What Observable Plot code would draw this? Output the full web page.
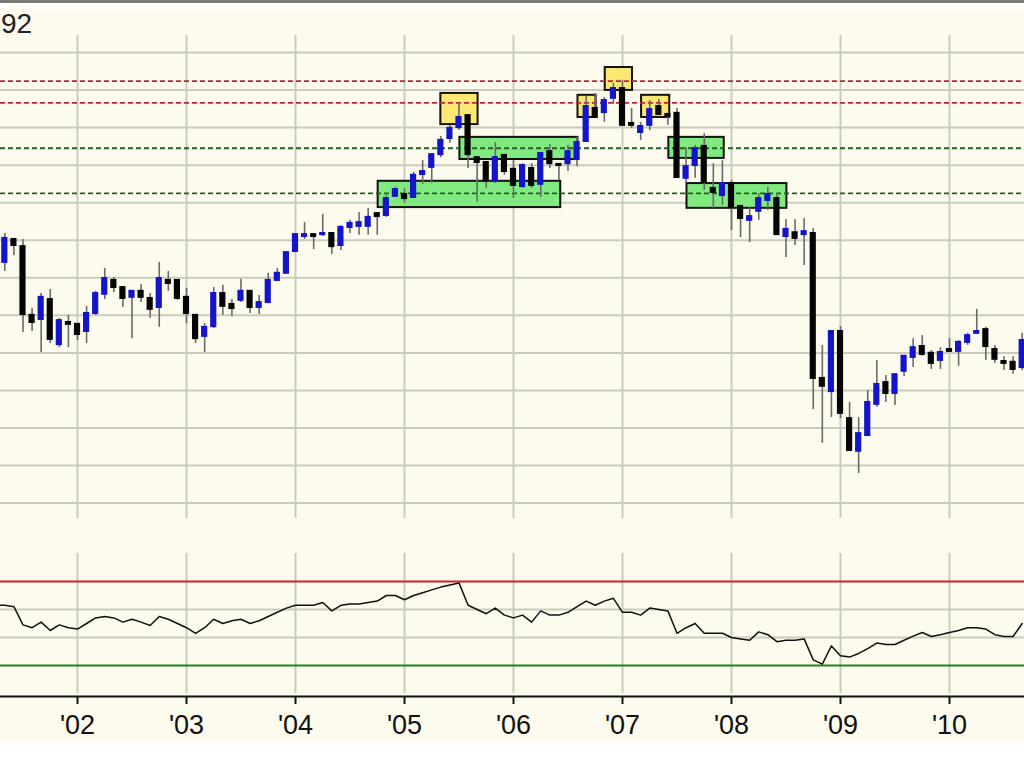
<!DOCTYPE html>
<html>
<head>
<meta charset="utf-8">
<script src="https://cdn.jsdelivr.net/npm/d3@7"></script>
<script src="https://cdn.jsdelivr.net/npm/@observablehq/plot@0.6"></script>
<style>
  body { margin: 0; background: #ffffff; }
  #wrap { position: relative; width: 1024px; height: 742px; background: #fdfbee; overflow: hidden; font-family: 'Liberation Sans', Arial, sans-serif; }
  #topline { position: absolute; left: 0; top: 0; width: 1024px; height: 3px; background: #7a7a7a; }
  #topband { position: absolute; left: 0; top: 3px; width: 1024px; height: 7px; background: #fffffa; }
  #main { position: absolute; left: 0; top: 0; }
  #lower { position: absolute; left: 0; top: 530px; }
</style>
</head>
<body>
<div id="wrap">
  <div id="topband"></div>
  <div id="main"></div>
  <div id="lower"></div>
  <div id="topline"></div>
</div>
<script>
// ---- Data (monthly candles, May 2001 .. Sep 2010; month index 0 = Jan 2002) ----
const firstMonthIndex = -8; // May 2001
const open = [74.1,80.2,78.3,60.0,58.9,64.2,52.2,58.1,
  57.6,55.7,60.5,65.6,69.3,67.4,64.8,66.4,64.5,62.1,69.3,69.3,
  64.8,60.0,54.4,57.0,65.8,62.9,64.0,66.4,62.1,63.4,69.3,71.2,
  77.0,81.0,81.5,81.5,81.8,78.6,83.4,83.7,83.7,87.1,86.6,91.7,
  92.2,91.4,97.5,99.4,102.8,107.1,110.0,113.2,102.0,100.7,95.7,102.6,
  98.9,94.3,99.1,94.9,103.6,100.2,100.4,101.5,106.3,115.1,114.0,117.8,
  120.4,111.1,108.7,110.6,115.6,113.5,113.8,96.5,99.9,105.0,93.8,91.9,
  95.1,89.0,85.3,87.7,90.6,91.1,81.0,82.0,81.5,81.8,43.2,39.7,
  55.7,32.5,23.8,28.0,36.3,42.1,39.2,45.1,48.8,51.7,49.9,48.0,
  50.9,50.4,52.8,55.2,56.2,50.9,47.7,47.5,46.1];
const high = [81.8,80.5,80.2,61.8,65.8,66.9,59.2,60.0,
  57.8,62.4,66.4,72.5,70.1,67.6,66.6,68.2,65.8,74.1,71.7,69.5,
  67.2,60.2,57.8,67.4,68.0,64.2,69.6,66.6,65.3,71.2,72.5,77.0,
  81.8,84.7,81.8,86.9,82.0,83.9,85.3,87.4,88.5,87.4,91.9,94.1,
  93.8,98.1,101.2,103.1,107.6,110.6,116.2,113.5,102.3,101.0,106.0,102.8,
  101.2,100.4,100.4,103.4,105.5,100.4,105.2,107.4,118.3,119.1,118.0,121.8,
  122.6,115.1,111.4,117.2,117.5,113.8,115.1,104.7,105.2,108.4,100.4,101.2,
  95.9,89.3,88.7,92.4,94.1,92.4,85.5,85.5,85.8,83.1,52.0,55.9,
  57.0,36.8,32.8,40.0,48.0,44.0,44.5,49.3,53.8,54.6,50.6,51.4,
  53.8,53.3,55.2,61.6,56.8,52.0,49.0,49.0,55.2];
const low = [71.7,75.9,55.4,55.7,50.1,52.5,51.4,51.4,
  53.3,52.5,60.0,64.2,66.1,62.1,53.8,63.4,59.2,56.8,66.4,64.0,
  57.8,52.5,50.1,56.5,60.0,59.7,63.4,60.5,60.2,63.2,69.0,71.0,
  76.7,80.2,77.5,81.0,76.2,77.3,81.8,81.3,81.3,81.3,86.1,91.4,
  89.8,91.1,94.9,95.1,102.0,105.8,109.2,99.1,90.1,93.8,95.1,97.3,
  91.1,93.8,93.8,91.4,99.1,95.9,98.3,99.6,106.0,112.4,111.4,116.2,
  110.3,109.8,106.6,109.2,113.2,110.6,96.5,95.1,96.5,93.3,88.5,89.3,
  82.6,80.7,79.4,85.3,87.9,81.3,75.4,78.6,73.3,34.9,25.9,32.8,
  32.5,23.8,17.9,27.7,35.5,36.8,36.0,43.7,46.1,49.1,45.6,45.6,
  50.2,46.4,52.0,55.0,48.0,47.2,45.3,44.3,45.3];
const close = [80.5,78.6,60.2,58.1,64.8,53.6,58.6,57.6,
  54.9,60.5,65.8,69.8,67.4,64.5,66.4,64.8,61.6,69.8,68.5,64.5,
  60.5,53.8,56.8,65.8,62.4,61.8,66.4,62.1,63.4,69.3,71.2,76.7,
  81.5,81.5,81.0,81.8,78.3,83.4,84.5,84.7,86.1,86.3,91.1,93.5,
  91.1,97.3,98.3,102.8,106.6,109.8,112.7,102.8,100.7,95.7,102.0,98.3,
  94.6,99.9,94.6,103.1,100.4,99.9,103.6,106.0,115.6,112.7,117.2,120.4,
  110.6,110.6,110.3,114.8,113.5,113.0,96.7,99.6,104.4,95.4,92.7,95.1,
  88.7,85.8,86.3,91.1,92.2,81.5,82.9,80.5,82.3,43.2,41.1,55.7,
  33.9,24.0,28.5,36.8,41.6,39.2,44.2,49.1,51.4,49.6,47.2,50.1,
  50.4,52.8,54.6,55.7,51.7,48.3,47.2,45.6,53.3];

// oscillator (RSI-like), Apr 2001 .. Sep 2010
const rsiFirstMonthIndex = -9;
const rsi = [63,63,62,49,47,51,45,49,47,
  46,50,54,55,54,51,53,51,48.6,55,53,50,
  47,43,47,53,50,52,53,50,52,55,58,61,
  63,63,63,65,59,63,64,64,65,66,70,70,
  67,70,72,74,76,77.5,79,63,60,57,61,56,
  54,56,51,59,56,56,58,62,66,63,66,68,
  58,58,56,61,60,59,43,47,50,43,43,43,
  40,39,38,44,42,37,38,38,39,24,21,34,
  27,26,28.6,32,36,35,35,38,41,43.6,40.7,42,
  43.6,45,47,47,46,42,40.7,40.7,50];
const rsiUpper = 80, rsiLower = 20, rsiGridLevels = [40, 60];

// year ticks
const yearTicks = [0, 12, 24, 36, 48, 60, 72, 84, 96];
const yearLabels = ["'02","'03","'04","'05","'06","'07","'08","'09","'10"];

// price grid and levels
const priceGrid = [10,20,30,40,50,60,70,80,90,100,110,120,130];
const resistanceLevels = [122.4, 116.6];
const supportLevels = [104.5, 92.5];

// highlighted zones (month index, price)
const zoneKind = ["top","top","top","top","base","base","base","base"];
const zoneStart = [40.0, 55.1, 58.1, 62.1, 33.1, 42.1, 65.1, 67.1];
const zoneEnd   = [44.1, 57.1, 61.1, 65.2, 53.2, 55.1, 71.2, 78.1];
const zoneHigh  = [119.1, 118.6, 126.0, 118.6, 95.7, 107.4, 107.4, 95.1];
const zoneLow   = [110.8, 112.7, 119.9, 112.7, 88.7, 101.5, 101.8, 88.5];

// header fragment visible at top-left
const headerText = "92";

// ---- build tables ----
const candles = open.map((o, i) => ({t: firstMonthIndex + i, open: o, high: high[i], low: low[i], close: close[i]}));
const rsiData = rsi.map((v, i) => ({t: rsiFirstMonthIndex + i, v}));
const zones = zoneKind.map((k, i) => ({kind: k, x1: zoneStart[i], x2: zoneEnd[i], y1: zoneLow[i], y2: zoneHigh[i]}));
const labelOf = new Map(yearTicks.map((t, i) => [t, yearLabels[i]]));

const pxPerMonth = 109 / 12;
const xDomain = [-77 / pxPerMonth, (1024 - 77) / pxPerMonth];
const gridColor = "#c9ccbd";
const font = "'Liberation Sans', Arial, sans-serif";
const halfBody = 0.34;

const main = Plot.plot({
  width: 1024, height: 530,
  marginTop: 0, marginRight: 0, marginBottom: 0, marginLeft: 0,
  style: {background: "none", fontFamily: font, overflow: "visible"},
  x: {domain: xDomain, axis: null},
  y: {domain: [10, 130], range: [502.6, 52], axis: null},
  marks: [
    Plot.ruleY(priceGrid, {stroke: gridColor, strokeWidth: 2}),
    Plot.ruleX(yearTicks, {y1: 5.9, y2: 134.5, stroke: gridColor, strokeWidth: 2}),
    Plot.rect(zones, {x1: "x1", x2: "x2", y1: "y1", y2: "y2",
      fill: d => d.kind === "top" ? "#fae872" : "#80ea80",
      stroke: "#111", strokeWidth: 2}),
    Plot.ruleY(resistanceLevels, {stroke: "#b8283a", strokeWidth: 1.8, strokeDasharray: "5,3"}),
    Plot.ruleY(supportLevels, {stroke: "#236023", strokeWidth: 1.8, strokeDasharray: "5,3"}),
    Plot.ruleX(candles, {x: "t", y1: "low", y2: "high", stroke: "#6a6a6a", strokeWidth: 1.6}),
    Plot.rect(candles, {
      x1: d => d.t - halfBody, x2: d => d.t + halfBody,
      y1: "open", y2: "close",
      fill: d => d.close >= d.open ? "#1414c8" : "#050505",
      insetTop: -1, insetBottom: -1
    })
  ]
});
d3.select(main).append("text")
  .attr("x", 1).attr("y", 33)
  .attr("text-anchor", "start")
  .attr("font-size", 28).attr("font-family", font).attr("fill", "#222")
  .text(headerText);
document.getElementById("main").appendChild(main);

const lower = Plot.plot({
  width: 1024, height: 212,
  marginTop: 0, marginRight: 0, marginBottom: 46, marginLeft: 0,
  style: {background: "none", fontFamily: font, overflow: "visible"},
  x: {domain: xDomain, axis: null},
  y: {domain: [0, 100], range: [163, 23], axis: null},
  marks: [
    Plot.ruleX(yearTicks, {y1: 0, y2: 100, stroke: gridColor, strokeWidth: 2}),
    Plot.ruleY(rsiGridLevels, {stroke: gridColor, strokeWidth: 2}),
    Plot.ruleY([rsiUpper], {stroke: "#cc2233", strokeWidth: 2}),
    Plot.ruleY([rsiLower], {stroke: "#1d851d", strokeWidth: 2}),
    Plot.line(rsiData, {x: "t", y: "v", stroke: "#111", strokeWidth: 1.5}),
    Plot.frame({anchor: "bottom", stroke: "#111", strokeWidth: 2}),
    Plot.axisX(yearTicks, {tickFormat: d => labelOf.get(d), label: null, tickSize: 8, tickPadding: 10, fontSize: 27, stroke: "#111", strokeWidth: 2, fill: "#111"})
  ]
});
document.getElementById("lower").appendChild(lower);
</script>
</body>
</html>
